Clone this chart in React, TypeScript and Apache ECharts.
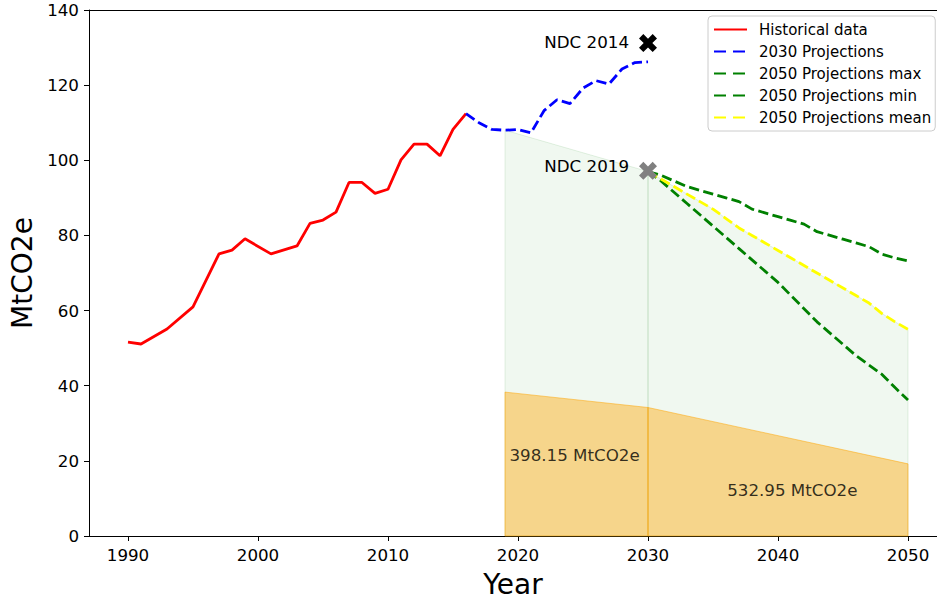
import React, { useEffect, useRef } from 'react';
import * as echarts from 'echarts';

const FONT = 'DejaVu Sans';

// Historical data (red)
const histYears = [1990, 1991, 1993, 1995, 1997, 1998, 1999, 2001, 2003, 2004, 2005, 2006, 2007, 2008, 2009, 2010, 2011, 2012, 2013, 2014, 2015, 2016];
const histValues = [51.6, 51.1, 55.1, 61.0, 75.1, 76.1, 79.1, 75.1, 77.2, 83.2, 84.1, 86.2, 94.1, 94.1, 91.2, 92.3, 100.1, 104.3, 104.3, 101.2, 108.2, 112.4];

// 2030 projections (blue dashed)
const proj2030Years = [2016, 2017, 2018, 2019, 2020, 2021, 2022, 2023, 2024, 2025, 2026, 2027, 2028, 2029, 2030];
const proj2030Values = [112.4, 110.0, 108.2, 108.0, 108.2, 107.3, 113.2, 116.1, 115.1, 119.2, 121.2, 120.3, 124.3, 126.0, 126.2];

// 2050 projections
const proj2050Years = [2030, 2031, 2032, 2033, 2034, 2035, 2036, 2037, 2038, 2039, 2040, 2041, 2042, 2043, 2044, 2045, 2046, 2047, 2048, 2049, 2050];
const proj2050Max = [97, 96, 94.5, 93, 92, 91, 90, 89, 87, 86, 85, 84, 83, 81, 80, 79, 78, 77, 75, 74, 73.2];
const proj2050Min = [97, 94.5, 91.5, 88.5, 85.5, 82.5, 79.5, 76.5, 73.5, 70.5, 67.5, 64, 60.5, 57, 54, 51, 48, 45.5, 43, 39.5, 36.2];
const proj2050Mean = [97, 95, 93, 91, 89, 87, 84.5, 82, 80, 78, 76, 74, 72, 70, 68, 66, 64, 62, 59.2, 57, 55];

// NDC markers
const ndcNames = ['NDC 2014', 'NDC 2019'];
const ndcYears = [2030, 2030];
const ndcValues = [131.2, 97.2];
const ndcColors = ['#000000', '#808080'];
const ndcLabelLift = [1.5, 5];

// Shaded regions
const greenBandYears = [2019, 2030];
const greenBandTop = [108, 97];
const budgetYears = [2019, 2030, 2050];
const budgetTop = [38.3, 34.2, 19.2];
const budgetLabels = ['398.15 MtCO2e', '532.95 MtCO2e'];
const budgetLabelAt = [[2024.35, 21.5], [2041.1, 12.3]];

const xTicks = [1990, 2000, 2010, 2020, 2030, 2040, 2050];
const X_MIN = 1987;
const X_MAX = 2052.23;

const zip = (xs: number[], ys: number[]) => xs.map((x, i) => [x, ys[i]]);

const X_PATH = 'path://M0,2.4 L2.4,0 L5,2.6 L7.6,0 L10,2.4 L7.4,5 L10,7.6 L7.6,10 L5,7.4 L2.4,10 L0,7.6 L2.6,5 Z';

const DASH = [10.3, 4.4];

function polySeries(pts: number[][], fill: string, stroke: string, z: number) {
  return {
    type: 'custom',
    coordinateSystem: 'cartesian2d',
    silent: true,
    z,
    data: [pts[0]],
    renderItem: (_params: any, api: any) => ({
      type: 'polygon',
      shape: { points: pts.map((p) => api.coord(p)) },
      style: { fill, stroke, lineWidth: 1 },
    }),
  };
}

function dashedLine(name: string, xs: number[], ys: number[], color: string) {
  return {
    name,
    type: 'line',
    data: zip(xs, ys),
    symbol: 'none',
    z: 5,
    lineStyle: { color, width: 2.8, type: DASH },
    itemStyle: { color },
  };
}

export default function App() {
  const ref = useRef<HTMLDivElement>(null);
  useEffect(() => {
    if (!ref.current) return;
    const chart = echarts.init(ref.current, undefined, { renderer: 'svg' });

    const greenA = [[greenBandYears[0], 0], ...zip(greenBandYears, greenBandTop), [greenBandYears[1], 0]];
    const greenB = [[proj2050Years[0], 0], ...zip(proj2050Years, proj2050Mean), [proj2050Years[proj2050Years.length - 1], 0]];
    const orangeA = [[budgetYears[0], 0], [budgetYears[0], budgetTop[0]], [budgetYears[1], budgetTop[1]], [budgetYears[1], 0]];
    const orangeB = [[budgetYears[1], 0], [budgetYears[1], budgetTop[1]], [budgetYears[2], budgetTop[2]], [budgetYears[2], 0]];

    const legendNames = ['Historical data', '2030 Projections', '2050 Projections max', '2050 Projections min', '2050 Projections mean'];

    chart.setOption({
      animation: false,
      backgroundColor: '#ffffff',
      textStyle: { fontFamily: FONT },
      grid: {
        left: 89,
        top: 10,
        right: 0,
        height: 529,
        show: false,
      },
      legend: {
        data: legendNames.map((n, i) => ({
          name: n,
          lineStyle: i === 0 ? { type: 'solid' } : { type: [12, 7] },
        })),
        orient: 'vertical',
        left: 708,
        top: 16,
        itemWidth: 33,
        itemHeight: 15,
        itemGap: 7,
        padding: [6, 4, 6, 5],
        backgroundColor: '#ffffff',
        borderColor: '#cccccc',
        borderWidth: 1,
        borderRadius: 4,
        selectedMode: false,
        itemStyle: { opacity: 0, borderWidth: 0 },
        textStyle: { fontSize: 15, fontFamily: FONT, color: '#000', padding: [0, 0, 0, 7] },
      },
      xAxis: [
        {
          type: 'value',
          min: X_MIN,
          max: X_MAX,
          name: 'Year',
          nameLocation: 'middle',
          nameGap: 34,
          nameTextStyle: { fontSize: 28, fontFamily: FONT, color: '#000' },
          axisLine: { show: true, lineStyle: { color: '#000', width: 1 } },
          axisTick: { show: true, length: 5, customValues: xTicks, lineStyle: { color: '#000' } },
          axisLabel: {
            customValues: xTicks,
            formatter: (v: number) => String(v),
            fontSize: 16.7,
            fontFamily: FONT,
            color: '#000',
            margin: 10,
          },
          splitLine: { show: false },
        },
        {
          type: 'value',
          position: 'top',
          min: X_MIN,
          max: X_MAX,
          axisLine: { show: true, lineStyle: { color: '#000', width: 1 } },
          axisTick: { show: false },
          axisLabel: { show: false },
          splitLine: { show: false },
        },
      ],
      yAxis: {
        type: 'value',
        min: 0,
        max: 140,
        interval: 20,
        name: 'MtCO2e',
        nameLocation: 'middle',
        nameGap: 50,
        nameTextStyle: { fontSize: 28, fontFamily: FONT, color: '#000' },
        axisLine: { show: true, lineStyle: { color: '#000', width: 1 } },
        axisTick: { show: true, length: 5, lineStyle: { color: '#000' } },
        axisLabel: { fontSize: 16.7, fontFamily: FONT, color: '#000', margin: 10 },
        splitLine: { show: false },
      },
      series: [
        polySeries(greenA, 'rgba(0,128,0,0.06)', 'rgba(0,128,0,0.1)', 1),
        polySeries(greenB, 'rgba(0,128,0,0.06)', 'rgba(0,128,0,0.1)', 1),
        polySeries(orangeA, 'rgba(255,165,0,0.42)', 'rgba(255,165,0,0.5)', 2),
        polySeries(orangeB, 'rgba(255,165,0,0.42)', 'rgba(255,165,0,0.5)', 2),
        {
          name: 'Historical data',
          type: 'line',
          data: zip(histYears, histValues),
          symbol: 'none',
          z: 5,
          lineStyle: { color: '#ff0000', width: 2.8 },
          itemStyle: { color: '#ff0000' },
        },
        dashedLine('2030 Projections', proj2030Years, proj2030Values, '#0000ff'),
        dashedLine('2050 Projections max', proj2050Years, proj2050Max, '#008000'),
        dashedLine('2050 Projections min', proj2050Years, proj2050Min, '#008000'),
        dashedLine('2050 Projections mean', proj2050Years, proj2050Mean, '#ffff00'),
        {
          type: 'scatter',
          z: 8,
          silent: true,
          symbol: X_PATH,
          symbolSize: 18,
          data: ndcNames.map((n, i) => ({
            name: n,
            value: [ndcYears[i], ndcValues[i]],
            itemStyle: { color: ndcColors[i], opacity: 1 },
            label: { offset: [0, -ndcLabelLift[i]] },
          })),
          label: {
            show: true,
            position: 'left',
            distance: 10,
            formatter: (p: any) => p.name,
            fontSize: 16.7,
            fontFamily: FONT,
            color: '#000',
          },
        },
        {
          type: 'scatter',
          z: 8,
          silent: true,
          symbolSize: 1,
          itemStyle: { color: 'transparent' },
          data: budgetLabels.map((t, i) => ({ name: t, value: budgetLabelAt[i] })),
          label: {
            show: true,
            position: 'inside',
            formatter: (p: any) => p.name,
            fontSize: 16.7,
            fontFamily: FONT,
            color: '#000',
          },
        },
      ],
    });
    return () => chart.dispose();
  }, []);
  return <div ref={ref} style={{ position: 'fixed', left: 0, top: 0, width: 937, height: 603 }} />;
}
